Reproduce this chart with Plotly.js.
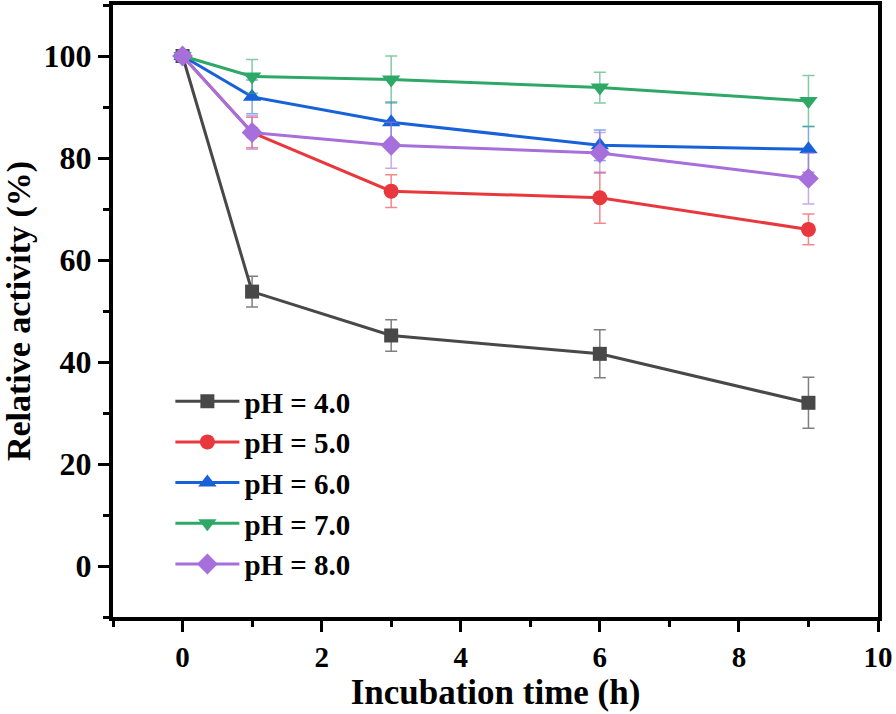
<!DOCTYPE html>
<html><head><meta charset="utf-8">
<script src="https://cdn.plot.ly/plotly-3.0.1.min.js"></script>
<style>html,body{margin:0;padding:0;background:#fff}</style>
</head><body>
<div id="chart" style="width:896px;height:714px"></div>
<script>
const timeH = [0, 1, 3, 6, 9];
const seriesNames = ["pH = 4.0", "pH = 5.0", "pH = 6.0", "pH = 7.0", "pH = 8.0"];
const ph4 = [100, 53.8, 45.2, 41.6, 32.0];
const ph5 = [100, 85.0, 73.5, 72.2, 66.0];
const ph6 = [100, 92.0, 87.0, 82.5, 81.7];
const ph7 = [100, 96.0, 95.4, 93.8, 91.2];
const ph8 = [100, 85.0, 82.5, 81.0, 76.0];
const err4 = [0.5, 3.0, 3.1, 4.7, 5.0];
const err5 = [0.5, 3.0, 3.2, 5.0, 3.0];
const err6 = [0.5, 3.3, 4.0, 3.0, 4.5];
const err7 = [0.5, 3.3, 4.6, 3.0, 5.0];
const err8 = [0.5, 3.3, 4.5, 4.0, 5.0];

const values = [ph4, ph5, ph6, ph7, ph8];
const errors = [err4, err5, err6, err7, err8];
const colors = ["#484848", "#e8383d", "#1761d9", "#2ea866", "#a76fdb"];
const errColors = ["rgba(72,72,72,0.7)", "rgba(232,56,61,0.6)", "rgba(23,97,217,0.55)", "rgba(46,168,102,0.6)", "rgba(167,111,219,0.6)"];
const symbols = ["square", "circle", "triangle-up", "triangle-down", "diamond"];
const sizes = [14, 15, 16, 16, 16];

const traces = values.map((v, i) => ({
  x: timeH, y: v, type: "scatter", mode: "lines+markers", name: seriesNames[i],
  line: {color: colors[i], width: 3},
  marker: {symbol: symbols[i], size: sizes[i], color: colors[i], line: {width: 0}},
  error_y: {type: "data", array: errors[i], visible: true, color: errColors[i], thickness: 1.5, width: 6}
}));

const fontFam = "Liberation Serif, Times New Roman, serif";
const layout = {
  width: 896, height: 714,
  margin: {l: 113, r: 18, t: 5, b: 97},
  paper_bgcolor: "#fff", plot_bgcolor: "#fff",
  showlegend: true,
  legend: {x: 0.075, y: 0.394, xanchor: "left", yanchor: "top", bgcolor: "rgba(0,0,0,0)",
    itemwidth: 64, tracegroupgap: 0,
    font: {family: fontFam, size: 29, color: "#000", weight: "bold"}},
  xaxis: {
    range: [-1, 10], dtick: 2, tick0: 0, showgrid: false, zeroline: false,
    showline: true, linewidth: 4, linecolor: "#000", mirror: true,
    ticks: "outside", ticklen: 11, tickwidth: 3, tickcolor: "#000",
    minor: {ticks: "outside", ticklen: 6, tickwidth: 3, dtick: 1, tick0: 0, tickcolor: "#000", showgrid: false},
    tickfont: {family: fontFam, size: 29, color: "#000", weight: "bold"},
    title: {text: "Incubation time (h)", font: {family: fontFam, size: 35, color: "#000", weight: "bold"}, standoff: 0}
  },
  yaxis: {
    range: [-10, 110], dtick: 20, tick0: 0, showgrid: false, zeroline: false,
    showline: true, linewidth: 4, linecolor: "#000", mirror: true,
    ticks: "outside", ticklen: 11, tickwidth: 3, tickcolor: "#000",
    minor: {ticks: "outside", ticklen: 6, tickwidth: 3, dtick: 10, tick0: 0, tickcolor: "#000", showgrid: false},
    tickfont: {family: fontFam, size: 32, color: "#000", weight: "bold"},
    title: {text: "Relative activity (%)", font: {family: fontFam, size: 34, color: "#000", weight: "bold"}, standoff: 6}
  }
};
Plotly.newPlot("chart", traces, layout, {displayModeBar: false, staticPlot: true});
</script>
</body></html>
